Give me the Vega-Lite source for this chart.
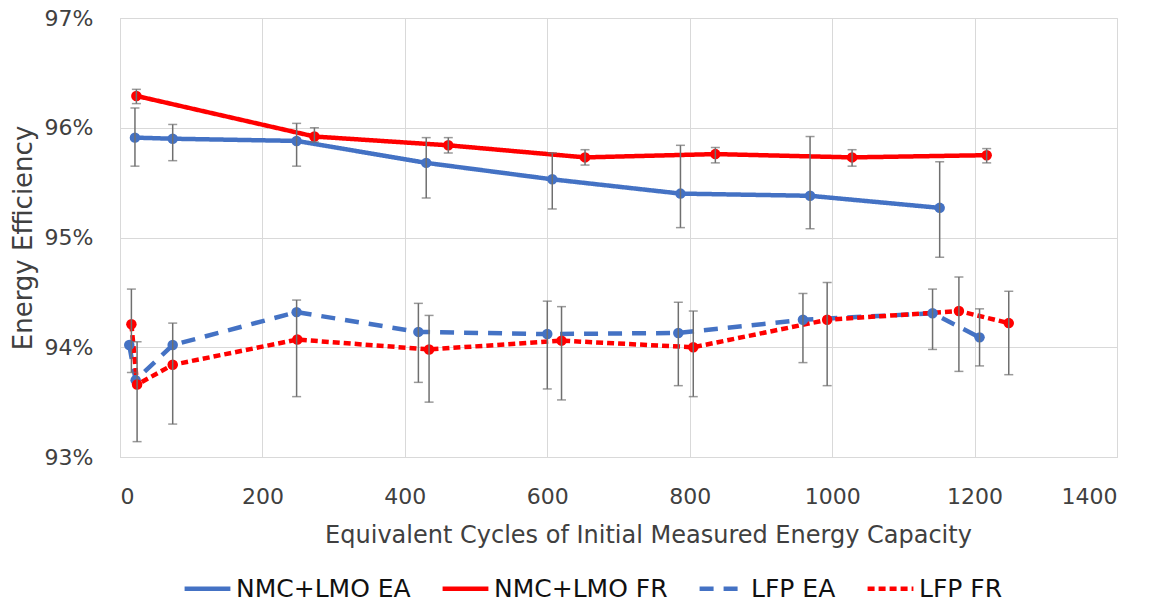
{
  "$schema": "https://vega.github.io/schema/vega-lite/v6.json",
  "autosize": {"type": "none"},
  "width": 997,
  "height": 439,
  "padding": {"left": 120, "top": 18, "right": 40, "bottom": 150},
  "background": "white",
  "config": {
    "font": "DejaVu Sans",
    "view": {"stroke": "#d9d9d9"},
    "axis": {"labelFont": "DejaVu Sans", "titleFont": "DejaVu Sans", "labelColor": "#404040", "titleColor": "#404040", "titleFontWeight": "normal"}
  },
  "data": {"values": [
    {"series": "NMC+LMO EA", "x": 21, "y": 0.9591, "lo": 0.9565, "hi": 0.9618},
    {"series": "NMC+LMO EA", "x": 74, "y": 0.9590, "lo": 0.9570, "hi": 0.9603},
    {"series": "NMC+LMO EA", "x": 248, "y": 0.9588, "lo": 0.9565, "hi": 0.9604},
    {"series": "NMC+LMO EA", "x": 430, "y": 0.9568, "lo": 0.9536, "hi": 0.9591},
    {"series": "NMC+LMO EA", "x": 607, "y": 0.9553, "lo": 0.9526, "hi": 0.9577},
    {"series": "NMC+LMO EA", "x": 787, "y": 0.9540, "lo": 0.9509, "hi": 0.9584},
    {"series": "NMC+LMO EA", "x": 969, "y": 0.9538, "lo": 0.9508, "hi": 0.9592},
    {"series": "NMC+LMO EA", "x": 1151, "y": 0.9527, "lo": 0.9482, "hi": 0.9569},
    {"series": "NMC+LMO FR", "x": 23, "y": 0.9629, "lo": 0.9622, "hi": 0.9635},
    {"series": "NMC+LMO FR", "x": 273, "y": 0.9592, "lo": 0.9587, "hi": 0.9600},
    {"series": "NMC+LMO FR", "x": 461, "y": 0.9584, "lo": 0.9577, "hi": 0.9591},
    {"series": "NMC+LMO FR", "x": 653, "y": 0.9573, "lo": 0.9566, "hi": 0.9580},
    {"series": "NMC+LMO FR", "x": 836, "y": 0.9576, "lo": 0.9568, "hi": 0.9582},
    {"series": "NMC+LMO FR", "x": 1028, "y": 0.9573, "lo": 0.9565, "hi": 0.9580},
    {"series": "NMC+LMO FR", "x": 1217, "y": 0.9575, "lo": 0.9568, "hi": 0.9581},
    {"series": "LFP EA", "x": 13, "y": 0.9402, "lo": null, "hi": null},
    {"series": "LFP EA", "x": 22, "y": 0.9370, "lo": null, "hi": null},
    {"series": "LFP EA", "x": 74, "y": 0.9402, "lo": null, "hi": null},
    {"series": "LFP EA", "x": 248, "y": 0.9432, "lo": 0.9355, "hi": 0.9443},
    {"series": "LFP EA", "x": 419, "y": 0.9414, "lo": 0.9368, "hi": 0.9440},
    {"series": "LFP EA", "x": 600, "y": 0.9412, "lo": 0.9362, "hi": 0.9442},
    {"series": "LFP EA", "x": 784, "y": 0.9413, "lo": 0.9365, "hi": 0.9441},
    {"series": "LFP EA", "x": 959, "y": 0.9425, "lo": 0.9386, "hi": 0.9449},
    {"series": "LFP EA", "x": 1141, "y": 0.9431, "lo": 0.9398, "hi": 0.9453},
    {"series": "LFP EA", "x": 1207, "y": 0.9409, "lo": 0.9383, "hi": 0.9435},
    {"series": "LFP FR", "x": 16, "y": 0.9421, "lo": 0.9377, "hi": 0.9453},
    {"series": "LFP FR", "x": 24, "y": 0.9366, "lo": 0.9314, "hi": 0.9405},
    {"series": "LFP FR", "x": 74, "y": 0.9384, "lo": 0.9330, "hi": 0.9422},
    {"series": "LFP FR", "x": 249, "y": 0.9407, "lo": null, "hi": null},
    {"series": "LFP FR", "x": 434, "y": 0.9398, "lo": 0.9350, "hi": 0.9429},
    {"series": "LFP FR", "x": 620, "y": 0.9406, "lo": 0.9352, "hi": 0.9437},
    {"series": "LFP FR", "x": 805, "y": 0.9400, "lo": 0.9355, "hi": 0.9433},
    {"series": "LFP FR", "x": 993, "y": 0.9425, "lo": 0.9365, "hi": 0.9459},
    {"series": "LFP FR", "x": 1178, "y": 0.9433, "lo": 0.9378, "hi": 0.9464},
    {"series": "LFP FR", "x": 1248, "y": 0.9422, "lo": 0.9375, "hi": 0.9451}
  ]},
  "encoding": {
    "x": {
      "field": "x", "type": "quantitative",
      "scale": {"domain": [0, 1400], "nice": false},
      "axis": {
        "title": "Equivalent Cycles of Initial Measured Energy Capacity",
        "values": [0, 200, 400, 600, 800, 1000, 1200, 1400], "format": "d",
        "grid": true, "gridColor": "#d9d9d9", "domainColor": "#d9d9d9",
        "ticks": false, "labelFontSize": 22, "labelPadding": 29,
        "titleFontSize": 24, "titlePadding": 16, "titleX": 528, "titleAlign": "center"
      }
    }
  },
  "layer": [
    {
      "mark": {"type": "line", "strokeWidth": 4.5},
      "encoding": {
        "y": {
          "field": "y", "type": "quantitative", "title": "Energy Efficiency",
          "scale": {"domain": [0.93, 0.97], "nice": false, "zero": false},
          "axis": {
            "title": "Energy Efficiency", "format": ".0%",
            "values": [0.93, 0.94, 0.95, 0.96, 0.97],
            "grid": true, "gridColor": "#d9d9d9", "domainColor": "#d9d9d9",
            "ticks": false, "labelFontSize": 22, "labelPadding": 27,
            "titleFontSize": 26, "titlePadding": 8
          }
        },
        "color": {
          "field": "series", "type": "nominal",
          "scale": {"domain": ["NMC+LMO EA", "NMC+LMO FR", "LFP EA", "LFP FR"], "range": ["#4472c4", "#ff0000", "#4472c4", "#ff0000"]},
          "legend": {
            "title": null, "orient": "none", "direction": "horizontal",
            "legendX": 62, "legendY": 545, "labelLimit": 400,
            "labelFontSize": 25, "labelColor": "#111", "labelFont": "DejaVu Sans",
            "symbolType": "stroke", "symbolSize": 2100, "symbolStrokeWidth": 4.5,
            "columnPadding": 22, "labelOffset": 3
          }
        },
        "strokeDash": {
          "field": "series", "type": "nominal",
          "scale": {"domain": ["NMC+LMO EA", "NMC+LMO FR", "LFP EA", "LFP FR"], "range": [[1, 0], [1, 0], [14, 10], [7, 4]]},
          "legend": {
            "title": null, "orient": "none", "direction": "horizontal",
            "legendX": 62, "legendY": 545, "labelLimit": 400,
            "labelFontSize": 25, "labelColor": "#111", "labelFont": "DejaVu Sans",
            "symbolType": "stroke", "symbolSize": 2100, "symbolStrokeWidth": 4.5,
            "columnPadding": 22, "labelOffset": 3
          }
        }
      }
    },
    {
      "mark": {"type": "point", "filled": true, "opacity": 1, "size": 110},
      "encoding": {
        "y": {"field": "y", "type": "quantitative", "title": "Energy Efficiency"},
        "color": {"field": "series", "type": "nominal", "legend": null}
      }
    },
    {
      "transform": [{"filter": "datum.lo != null"}],
      "mark": {"type": "errorbar", "ticks": {"size": 9, "color": "#6f6f6f", "thickness": 1.5}, "rule": {"color": "#6f6f6f", "strokeWidth": 1.5}},
      "encoding": {
        "y": {"field": "lo", "type": "quantitative", "title": "Energy Efficiency"},
        "y2": {"field": "hi"}
      }
    }
  ]
}
